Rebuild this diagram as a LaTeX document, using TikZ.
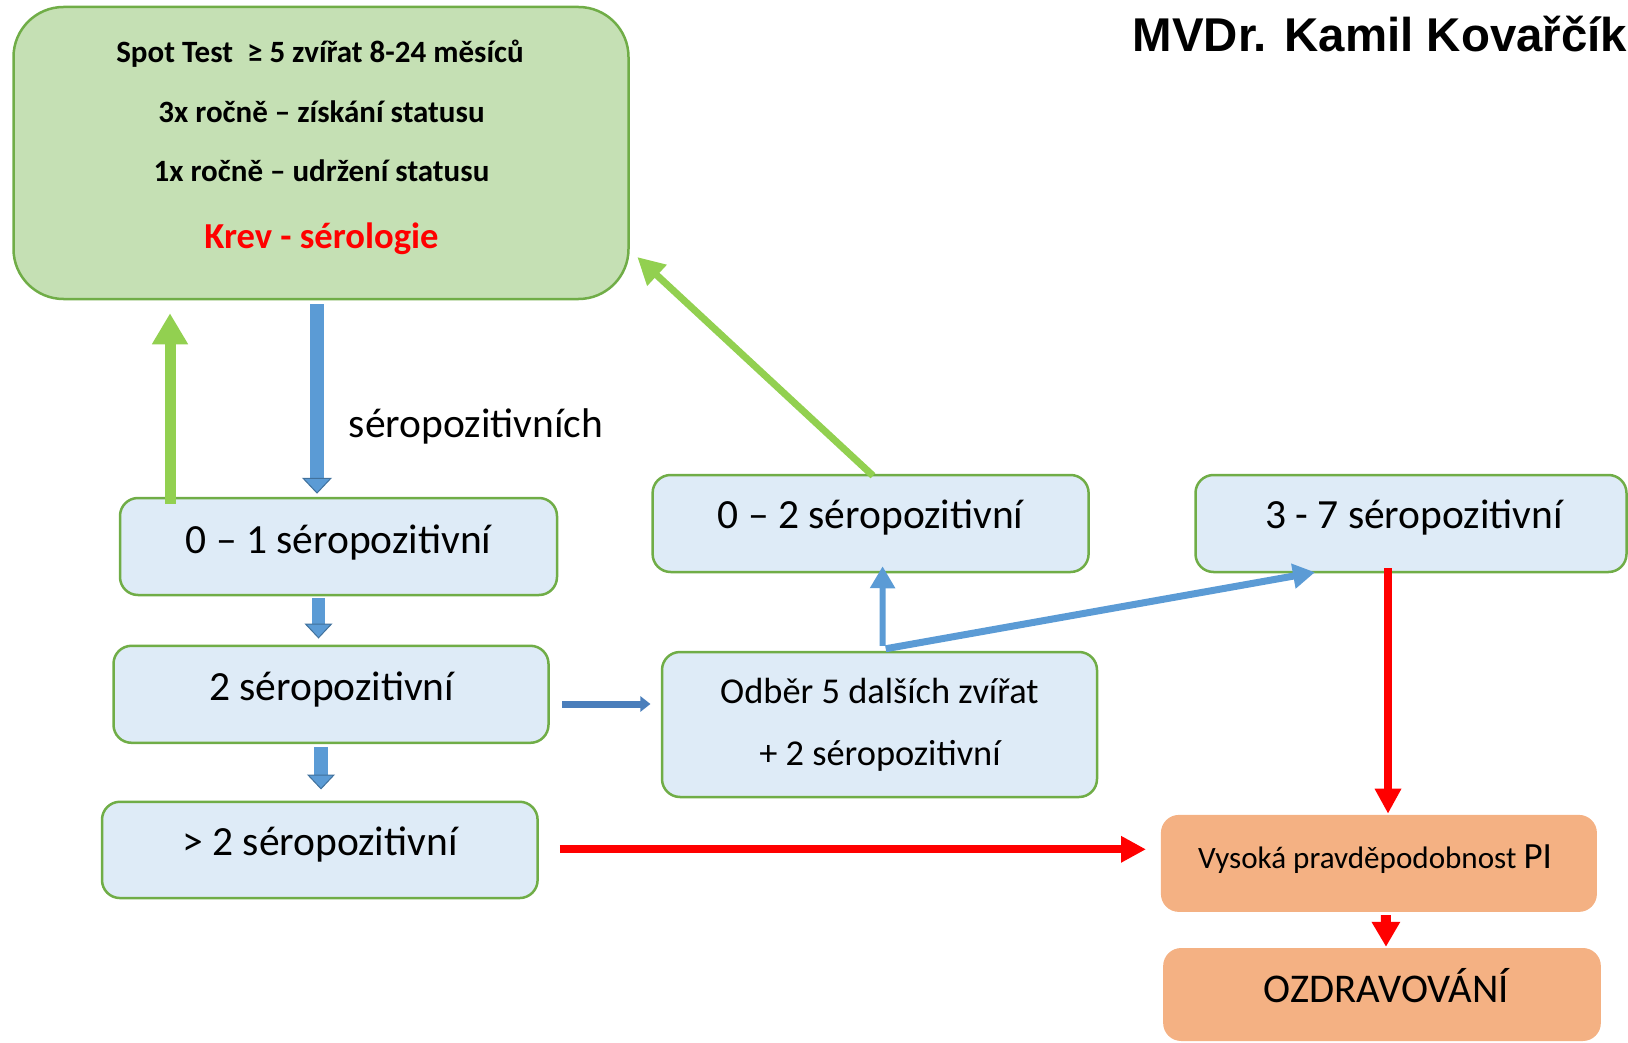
\documentclass[tikz,border=0pt]{standalone}
\usepackage{fontspec}
\setmainfont{Carlito}
\newfontfamily\titlefont{Liberation Sans}
\usetikzlibrary{arrows.meta,calc}
\definecolor{gfill}{HTML}{C5E0B4}
\definecolor{gborder}{HTML}{70AD47}
\definecolor{bfill}{HTML}{DEEBF7}
\definecolor{ofill}{HTML}{F4B183}
\definecolor{agreen}{HTML}{92D050}
\definecolor{ablue}{HTML}{5B9BD5}
\definecolor{abluedark}{HTML}{41719C}
\definecolor{asteel}{HTML}{4A7EBB}
\definecolor{ared}{HTML}{FF0000}
\tikzset{
  bluebox/.style={draw=gborder, line width=2.5pt, fill=bfill, rounded corners=18pt, inner sep=0pt},
  orangebox/.style={fill=ofill, rounded corners=18pt, inner sep=0pt},
  greenbox/.style={draw=gborder, line width=2.5pt, fill=gfill, rounded corners=50pt, inner sep=0pt},
  txt/.style={inner sep=0pt, anchor=base, font=\fontsize{41.5}{48}\selectfont},
  txtbold/.style={inner sep=0pt, anchor=base, font=\bfseries\fontsize{31}{36}\selectfont},
  txtsmall/.style={inner sep=0pt, anchor=base, font=\fontsize{36.4}{42}\selectfont},
}
\begin{document}
\begin{tikzpicture}[x=1pt,y=-1pt]
\useasboundingbox (0,0) rectangle (1628,1043);
% boxes
\node[greenbox, minimum width=615pt, minimum height=292pt] (green) at (321,153) {};
\node[bluebox, minimum width=437pt, minimum height=97pt] (b01) at (338.5,546.5) {};
\node[bluebox, minimum width=435pt, minimum height=97pt] (b2) at (331,694.3) {};
\node[bluebox, minimum width=435.6pt, minimum height=96.3pt] (b3) at (319.8,849.9) {};
\node[bluebox, minimum width=436pt, minimum height=97pt] (b02) at (870.6,523.5) {};
\node[bluebox, minimum width=431pt, minimum height=97pt] (b37) at (1411,523.5) {};
\node[bluebox, minimum width=435pt, minimum height=145pt] (odb) at (879.5,724.5) {};
\node[orangebox, minimum width=436pt, minimum height=97pt] (pi) at (1378.9,863.4) {};
\node[orangebox, minimum width=437.7pt, minimum height=93pt] (ozd) at (1382,994.5) {};
% texts
\node[txtbold] (g1) at (320,63) {Spot Test\ \ ≥ 5 zvířat 8-24 měsíců};
\node[txtbold] (g2) at (321.5,123) {3x ročně – získání statusu};
\node[txtbold] (g3) at (321.5,182) {1x ročně – udržení statusu};
\node[txt, text=ared, font=\bfseries\fontsize{36.6}{44}\selectfont] (g4) at (321.5,248) {Krev - sérologie};
\node[inner sep=0pt, anchor=base, font=\titlefont\bfseries\fontsize{47.4}{55}\selectfont] (title) at (1380,52) {MVDr. Kamil Kovařčík};
\node[txt] (lbl) at (476,437) {séropozitivních};
\node[txt] (t01) at (338.5,553) {0 – 1 séropozitivní};
\node[txt] (t2) at (331.7,700) {2 séropozitivní};
\node[txt] (t3) at (320,855) {> 2 séropozitivní};
\node[txt] (t02) at (870.6,528) {0 – 2 séropozitivní};
\node[txt] (t37) at (1414,528) {3 - 7 séropozitivní};
\node[txtsmall] (to1) at (879.4,703) {Odběr 5 dalších zvířat};
\node[txtsmall] (to2) at (880,765) {+ 2 séropozitivní};
\node[inner sep=0pt, anchor=base west, font=\fontsize{31.1}{36}\selectfont] (tpi) at (1198,868) {Vysoká pravděpodobnost {\fontsize{37}{42}\selectfont PI}};
\node[txt, font=\fontsize{40.8}{47}\selectfont] (tozd) at (1386.5,1002) {OZDRAVOVÁNÍ};
% connectors
\draw[agreen, line width=11pt, -{Triangle[width=34pt,length=31pt]}]
  ($(b01.north)+(-168.5,7)$) -- ($(green.south)+(-151,13)$);
\draw[ablue, line width=14pt, -{Triangle[width=30pt,length=16pt,fill=ablue,color=abluedark,line width=1pt]}]
  ($(green.south)+(-4,4)$) -- ($(b01.north)+(-21.5,-3)$);
\draw[ablue, line width=13pt, -{Triangle[width=28pt,length=15pt,fill=ablue,color=abluedark,line width=1pt]}]
  ($(b01.south)+(-20,2)$) -- ($(b2.north)+(-12.5,-6)$);
\draw[ablue, line width=13.5pt, -{Triangle[width=28pt,length=15pt,fill=ablue,color=abluedark,line width=1pt]}]
  ($(b2.south)+(-10,3)$) -- ($(b3.north)+(1.2,-11)$);
\draw[asteel, line width=7pt, -{Triangle[width=15pt,length=10pt]}]
  ($(b2.east)+(12.3,9.7)$) -- ($(odb.west)+(-10.3,-20.5)$);
\draw[ablue, line width=6pt, -{Triangle[width=24pt,length=22pt]}]
  ($(odb.north)+(3,-5)$) -- ($(b02.south)+(12,-7)$);
\draw[ablue, line width=7pt, -{Triangle[width=24pt,length=22pt]}]
  ($(odb.north)+(6.2,-2)$) -- ($(b37.south)+(-96,-1)$);
\draw[agreen, line width=7pt, -{Triangle[width=27pt,length=27pt]}]
  ($(b02.north)+(2.4,2)$) -- ($(green.east)+(7.5,104)$);
\draw[ared, line width=7.5pt, -{Triangle[width=25pt,length=25pt]}]
  ($(b37.south)+(-23,-5)$) -- ($(pi.north)+(9.1,-1)$);
\draw[ared, line width=8.3pt, -{Triangle[width=25pt,length=25pt]}]
  ($(b3.east)+(21,-0.6)$) -- ($(pi.west)+(-14.7,-14.1)$);
\draw[ared, line width=10pt, -{Triangle[width=27pt,length=25pt]}]
  ($(pi.south)+(7,3)$) -- ($(ozd.north)+(4,-1)$);
\end{tikzpicture}
\end{document}
